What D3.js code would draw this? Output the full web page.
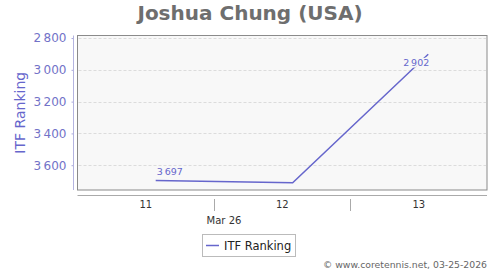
<!DOCTYPE html>
<html lang="en">
<head>
    <meta charset="UTF-8">
    <title>Joshua Chung (USA)</title>
    <script src="https://d3js.org/d3.v7.min.js"></script>
    <style>
        body { margin: 0; background: #fff; }
        svg { font-family: "DejaVu Sans", sans-serif; }
    </style>
</head>
<body>
    <svg width="500" height="270"></svg>
    <script>
// data
const dates = ["2026-03-11T13:45", "2026-03-12T13:50", "2026-03-13T13:40"];
const ranks = [3697, 3710, 2902];
const labelled = [0, 2];
const yTicks = [2800, 3000, 3200, 3400, 3600];
const dayBounds = ["2026-03-11", "2026-03-12", "2026-03-13", "2026-03-14"];
const dayLabels = ["11", "12", "13"];
const monthLabel = "Mar 26";
const seriesName = "ITF Ranking";

const svg = d3.select("svg");
const parse = d3.isoParse;
const plot = { left: 77.5, right: 487, top: 35.5, bottom: 190 };
const purple = "#6666cc";
const fmt = d3.formatLocale({ decimal: ".", thousands: "\u2009", grouping: [3], currency: ["", ""] }).format(",");

const x = d3.scaleTime()
    .domain([parse(dayBounds[0]), parse(dayBounds[dayBounds.length - 1])])
    .range([plot.left, plot.right]);
const y = d3.scaleLinear()
    .domain([2784, 3756])
    .range([plot.top, plot.bottom]);

// title
svg.append("text")
   .attr("x", 250).attr("y", 20)
   .attr("text-anchor", "middle")
   .attr("font-size", 20).attr("font-weight", "bold")
   .attr("fill", "#6e6e6e")
   .text("Joshua Chung (USA)");

// plot background
svg.append("rect")
   .attr("x", plot.left).attr("y", plot.top)
   .attr("width", plot.right - plot.left).attr("height", plot.bottom - plot.top)
   .attr("fill", "#f8f8f8").attr("stroke", "#8a8a8a");

// grid
svg.append("g").selectAll("line")
   .data(yTicks)
   .join("line")
   .attr("x1", plot.left + 1).attr("x2", plot.right - 1)
   .attr("y1", d => Math.round(y(d)) + 0.5).attr("y2", d => Math.round(y(d)) + 0.5)
   .attr("stroke", "#dcdcdc").attr("stroke-dasharray", "3,2");

// y axis, drawn apart from the plot box
const yAxis = svg.append("g")
   .attr("transform", "translate(73.5,0)")
   .call(d3.axisLeft(y).tickValues(yTicks).tickFormat(fmt).tickSize(2).tickPadding(5));
yAxis.select(".domain").remove();
yAxis.selectAll(".tick line").attr("stroke", "#aaaadd");
yAxis.selectAll(".tick text")
   .attr("fill", "#7272c8").attr("font-size", 12)
   .attr("font-family", "DejaVu Sans");
yAxis.append("line")
   .attr("y1", plot.top).attr("y2", plot.bottom)
   .attr("stroke", "#b4b4e0");

svg.append("text")
   .attr("transform", `translate(25,${(plot.top + plot.bottom) / 2}) rotate(-90)`)
   .attr("text-anchor", "middle")
   .attr("font-size", 14).attr("fill", purple)
   .text(seriesName);

// x axis, also set apart below the box
const xg = svg.append("g");
xg.append("line")
   .attr("x1", plot.left).attr("x2", plot.right)
   .attr("y1", 195.5).attr("y2", 195.5)
   .attr("stroke", "#aaaaaa");
xg.selectAll("line.sep")
   .data(dayBounds.slice(1, -1))
   .join("line")
   .attr("class", "sep")
   .attr("x1", d => Math.round(x(parse(d))) + 0.5).attr("x2", d => Math.round(x(parse(d))) + 0.5)
   .attr("y1", 199).attr("y2", 211)
   .attr("stroke", "#aaaaaa");
xg.selectAll("text.day")
   .data(dayLabels)
   .join("text")
   .attr("class", "day")
   .attr("x", (d, i) => (x(parse(dayBounds[i])) + x(parse(dayBounds[i + 1]))) / 2)
   .attr("y", 207.5)
   .attr("text-anchor", "middle")
   .attr("font-size", 10).attr("fill", "#333")
   .text(d => d);
xg.append("text")
   .attr("x", x(parse(dayBounds[1])) + 10).attr("y", 224)
   .attr("text-anchor", "middle")
   .attr("font-size", 10).attr("fill", "#333")
   .text(monthLabel);

// series
const pts = dates.map((d, i) => [x(parse(d)), y(ranks[i])]);
svg.append("path")
   .datum(pts)
   .attr("d", d3.line())
   .attr("fill", "none")
   .attr("stroke", purple).attr("stroke-width", 1.5);

svg.append("g").selectAll("text")
   .data(labelled)
   .join("text")
   .attr("x", i => pts[i][0] + 1)
   .attr("y", i => i === dates.length - 1 ? pts[i][1] + 12 : pts[i][1] - 6)
   .attr("text-anchor", i => i === dates.length - 1 ? "end" : "start")
   .attr("font-size", 9.5).attr("fill", purple)
   .attr("stroke", "#f8f8f8").attr("stroke-width", 3)
   .attr("paint-order", "stroke")
   .text(i => fmt(ranks[i]));

// legend
const lg = svg.append("g");
lg.append("rect")
   .attr("x", 202.5).attr("y", 234.5).attr("width", 93).attr("height", 22)
   .attr("fill", "#fff").attr("stroke", "#bbbbbb");
lg.append("line")
   .attr("x1", 206).attr("x2", 219).attr("y1", 245.5).attr("y2", 245.5)
   .attr("stroke", purple).attr("stroke-width", 1.5);
lg.append("text")
   .attr("x", 224).attr("y", 249.5)
   .attr("font-size", 11.5).attr("fill", "#222")
   .text(seriesName);

// credits
svg.append("text")
   .attr("x", 487).attr("y", 268)
   .attr("text-anchor", "end")
   .attr("font-size", 9.3).attr("fill", "#666")
   .text("© www.coretennis.net, 03-25-2026");
    </script>
</body>
</html>
